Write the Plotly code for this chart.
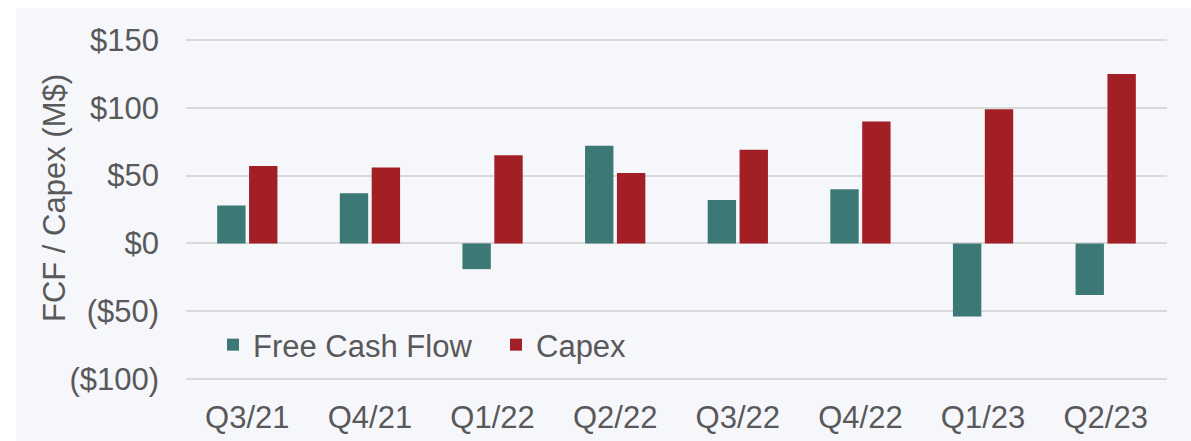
import plotly.graph_objects as go

quarters = ["Q3/21", "Q4/21", "Q1/22", "Q2/22", "Q3/22", "Q4/22", "Q1/23", "Q2/23"]
fcf = [28, 37, -19, 72, 32, 40, -54, -38]
capex = [57, 56, 65, 52, 69, 90, 99, 125]
y_ticks = [-100, -50, 0, 50, 100, 150]
y_tick_labels = ["($100)", "($50)", "$0", "$50", "$100", "$150"]

W, H = 1191, 441
L, R, T, B = 186, 24, 38, 60
pw, ph = W - L - R, H - T - B

font_color = "#595959"
font_family = "Liberation Sans, Arial, sans-serif"
fs = 31

fig = go.Figure()
fig.add_trace(go.Bar(x=quarters, y=fcf, name="Free Cash Flow",
                     marker=dict(color="#3b7876", line=dict(width=0))))
fig.add_trace(go.Bar(x=quarters, y=capex, name="Capex",
                     marker=dict(color="#a21f26", line=dict(width=0))))

# panel background (white border at top/left)
fig.add_shape(type="rect", xref="paper", yref="paper", layer="below",
              x0=(16 - L) / pw, x1=(W + 5 - L) / pw,
              y0=(H - B - (H + 5)) / ph, y1=(H - B - 8) / ph,
              fillcolor="#f5f7fb", line=dict(width=0))

# y-axis title
fig.add_annotation(text="FCF / Capex (M$)", textangle=-90, showarrow=False,
                   xref="paper", yref="paper",
                   x=(54 - L) / pw, y=(H - B - 198) / ph,
                   xanchor="center", yanchor="middle",
                   font=dict(size=fs, color=font_color, family=font_family))

fig.update_layout(
    width=W, height=H,
    margin=dict(l=L, r=R, t=T, b=B, pad=0, autoexpand=False),
    paper_bgcolor="white", plot_bgcolor="rgba(0,0,0,0)",
    barmode="group", bargap=0.48, bargroupgap=0.11,
    font=dict(family=font_family, color=font_color, size=fs),
    showlegend=True,
    legend=dict(orientation="h", x=(213 - L) / pw, y=(H - B - 345) / ph,
                xanchor="left", yanchor="middle",
                entrywidth=238, entrywidthmode="pixels",
                bgcolor="rgba(0,0,0,0)", font=dict(size=fs, color=font_color),
                traceorder="normal"),
    xaxis=dict(showgrid=False, showline=False, ticks="", tickfont=dict(size=fs),
               ticklabelstandoff=15, automargin=False),
    yaxis=dict(range=[-101.5, 151.5], tickvals=y_ticks, ticktext=y_tick_labels,
               showgrid=True, gridcolor="#d9d9d9", gridwidth=2,
               zeroline=True, zerolinecolor="#d9d9d9", zerolinewidth=2,
               showline=False, ticks="", tickfont=dict(size=fs),
               ticklabelstandoff=26, automargin=False),
)

post = ("document.body.style.margin='0';"
        "document.body.style.overflow='hidden';"
        "document.documentElement.style.overflow='hidden';")
fig.write_html("out.html", config={"displayModeBar": False}, post_script=post)
